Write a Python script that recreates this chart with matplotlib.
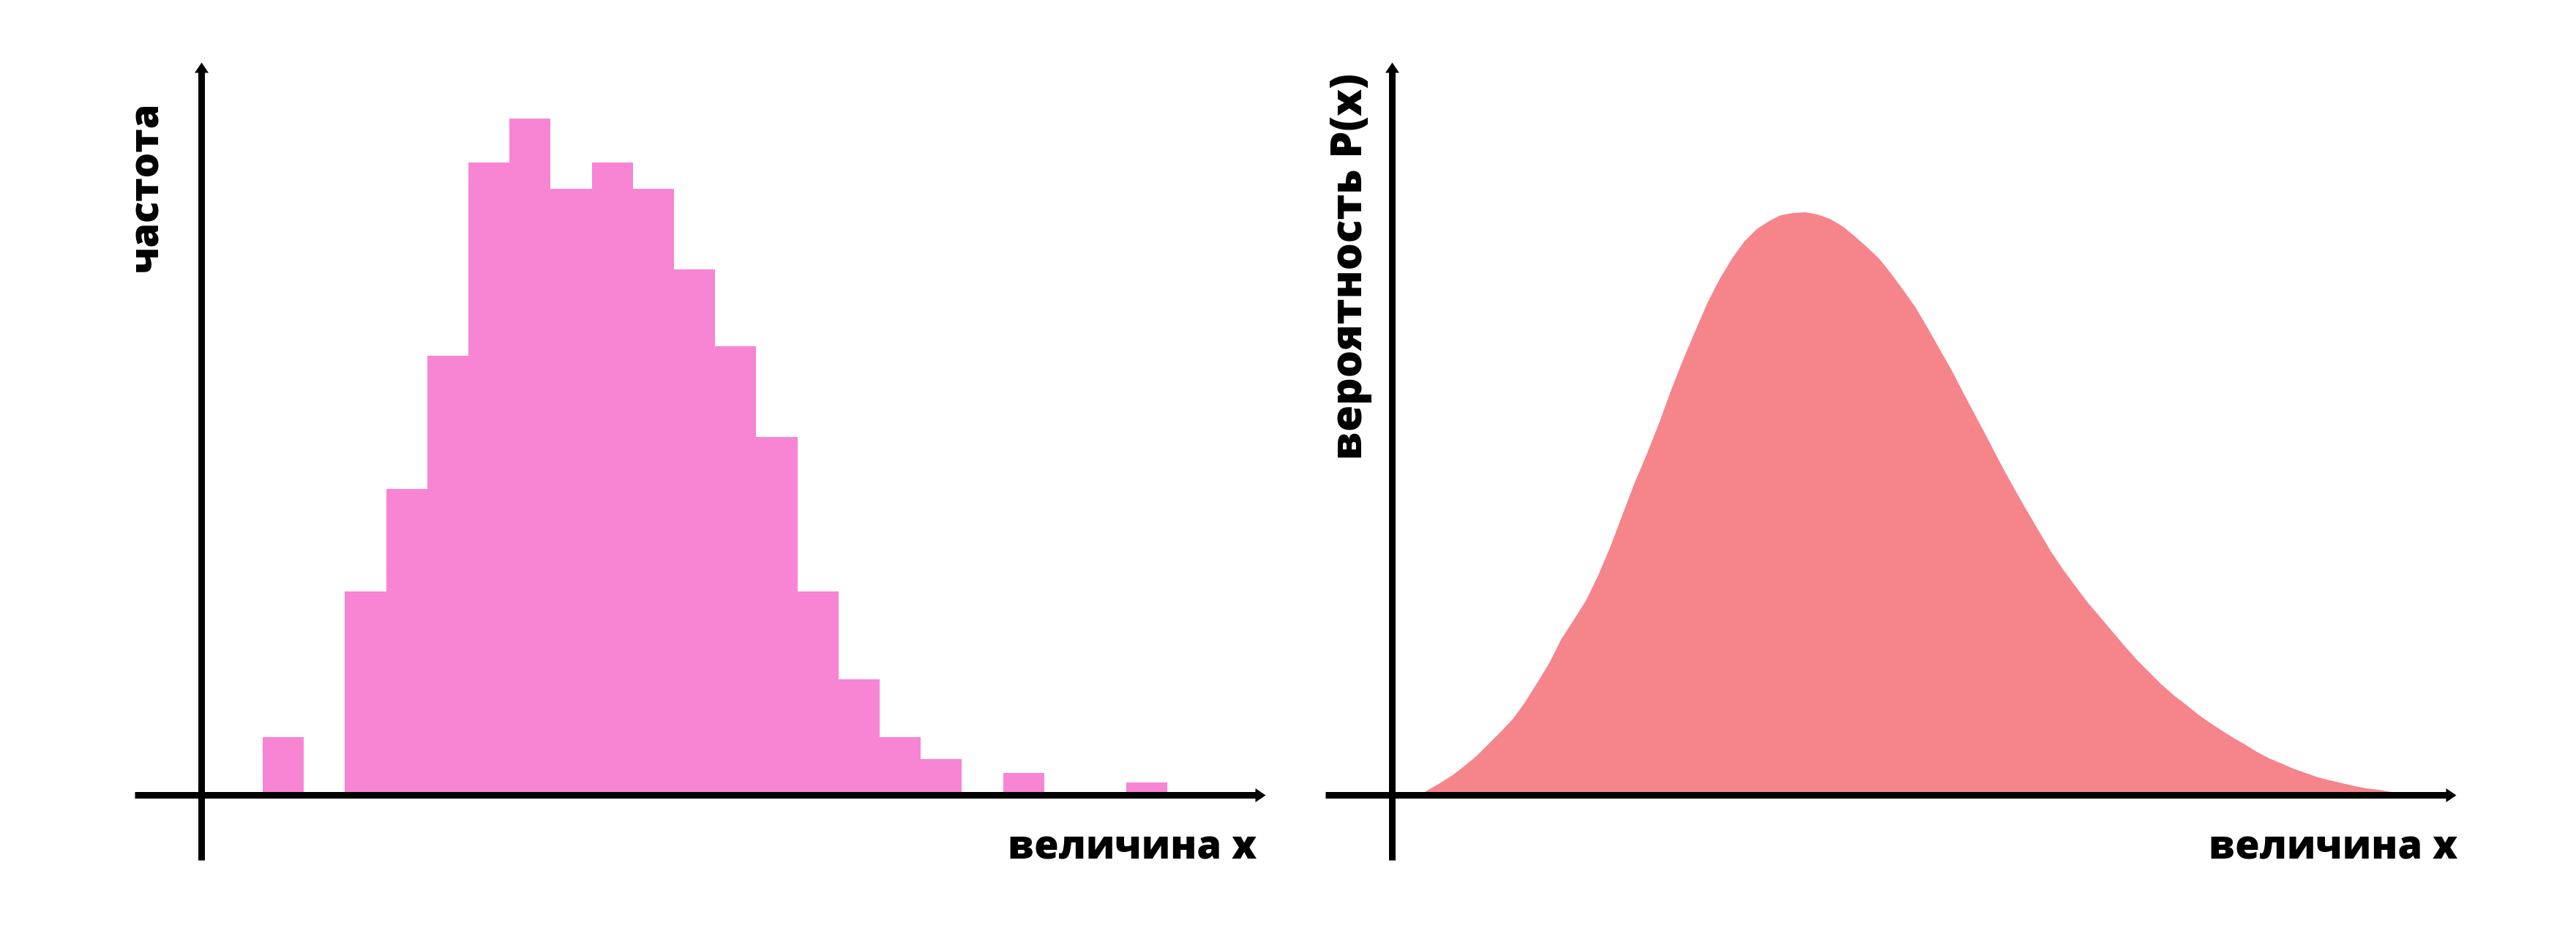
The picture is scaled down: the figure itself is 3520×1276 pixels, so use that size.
import numpy as np
import matplotlib.pyplot as plt
from matplotlib.path import Path

plt.rcParams['font.family'] = ['Open Sans', 'DejaVu Sans']

# ---------------- DATA ----------------
# histogram: one value per bin (bin width = 1)
hist_bins = np.arange(22)
hist_freq = [6.3, 0, 22.2, 33.4, 48.0, 69.1, 73.9, 66.2, 69.1, 66.2, 57.4,
             49.0, 39.1, 22.2, 12.6, 6.3, 3.9, 0, 2.4, 0, 0, 1.3]

# density curve P(x)
curve_x = [0.41, 0.65, 0.81, 0.98, 1.15, 1.31, 1.48, 1.65, 1.81, 1.98,
           2.15, 2.31, 2.48, 2.65, 2.81, 2.98, 3.15, 3.31, 3.48, 3.65,
           3.81, 3.98, 4.15, 4.31, 4.48, 4.65, 4.81, 4.98, 5.15, 5.31,
           5.48, 5.65, 5.81, 5.98, 6.15, 6.31, 6.48, 6.65, 6.81, 6.98,
           7.15, 7.31, 7.48, 7.65, 7.81, 7.98, 8.15, 8.31, 8.48, 8.65,
           8.85, 9.01, 9.18, 9.35, 9.51, 9.68, 9.85, 10.01, 10.18, 10.35,
           10.51, 10.68, 10.85, 11.01, 11.18, 11.35, 11.51, 11.65, 11.81, 11.98,
           12.15, 12.31, 12.48, 12.65, 12.81, 12.98, 13.15, 13.31, 13.48, 13.65,
           13.88]
curve_p = [0.002, 0.016, 0.026, 0.039, 0.053, 0.069, 0.086, 0.104, 0.126, 0.153,
           0.181, 0.213, 0.239, 0.266, 0.299, 0.339, 0.384, 0.426, 0.466, 0.509,
           0.553, 0.596, 0.636, 0.673, 0.706, 0.734, 0.756, 0.773, 0.784, 0.792,
           0.795, 0.796, 0.793, 0.787, 0.777, 0.764, 0.749, 0.733, 0.713, 0.690,
           0.666, 0.639, 0.609, 0.579, 0.548, 0.516, 0.484, 0.453, 0.422, 0.392,
           0.358, 0.331, 0.306, 0.283, 0.262, 0.242, 0.222, 0.203, 0.184, 0.167,
           0.151, 0.136, 0.123, 0.110, 0.098, 0.087, 0.077, 0.069, 0.059, 0.050,
           0.043, 0.036, 0.030, 0.024, 0.020, 0.016, 0.012, 0.009, 0.007, 0.004,
           0.0]

x_label = "величина x"
hist_ylabel = "частота"
curve_ylabel = "вероятность P(x)"

# ---------------- STYLE ----------------
W, H = 3520, 1276
BAR_COLOR = "#F785D3"
CURVE_COLOR = "#F6848B"
LW = 9 * 0.72          # 9 px axis lines
HEAD_LEN = 14          # px
FONT_SIZE = 39
WEIGHT = 800

fig = plt.figure(figsize=(W / 100, H / 100), dpi=100)


def panel(box, origin, sx, sy):
    # box (left, top, right, bottom) in px; origin = px of data (0, 0); sx, sy = px per unit
    l, t, r, b = box
    ax = fig.add_axes([l / W, 1 - b / H, (r - l) / W, (b - t) / H])
    ox, oy = origin
    ax.set_xlim((l - ox) / sx, (r - ox) / sx)
    ax.set_ylim((oy - b) / sy, (oy - t) / sy)
    ax.axis('off')
    return ax


# left: histogram
ax1 = panel((140, 40, 1780, 1230), (359, 1085.5), 56.2, 12.5)
ax1.bar(hist_bins, hist_freq, width=1, align='edge', color=BAR_COLOR, linewidth=0)

# right: density
ax2 = panel((1780, 40, 3420, 1230), (1902, 1085.5), 100, 1000)
ax2.fill_between(curve_x, curve_p, 0, color=CURVE_COLOR, linewidth=0)

# overlay in pixel coords for the arrows and labels
ov = fig.add_axes([0, 0, 1, 1])
ov.set_xlim(0, W)
ov.set_ylim(H, 0)
ov.axis('off')

head_right = Path([(0, 0), (-14, 9.5), (-14, -9.5), (0, 0)],
                  [Path.MOVETO, Path.LINETO, Path.LINETO, Path.CLOSEPOLY])
head_up = Path([(0, 0), (-9.5, -14), (9.5, -14), (0, 0)],
               [Path.MOVETO, Path.LINETO, Path.LINETO, Path.CLOSEPOLY])
HEAD_MS = 2 * HEAD_LEN * 0.72


def arrows(x0, x1, yb, y0, y1, xa):
    ov.plot([x0, x1 - HEAD_LEN + 1], [yb, yb], color='black', lw=LW, solid_capstyle='butt')
    ov.plot([xa, xa], [y0, y1 + HEAD_LEN - 1], color='black', lw=LW, solid_capstyle='butt')
    ov.plot(x1, yb, marker=head_right, ms=HEAD_MS, color='black', mew=0)
    ov.plot(xa, y1, marker=head_up, ms=HEAD_MS, color='black', mew=0)


arrows(184, 1729, 1085.5, 1175, 85, 275)
arrows(1811, 3356, 1085.5, 1175, 85, 1902)

ov.text(1717, 1174, x_label, ha='right', va='baseline', fontsize=FONT_SIZE, fontweight=WEIGHT)
ov.text(3358, 1174, x_label, ha='right', va='baseline', fontsize=FONT_SIZE, fontweight=WEIGHT)
ov.text(215, 255, hist_ylabel, rotation=90, rotation_mode='anchor', ha='center', va='baseline',
        fontsize=FONT_SIZE, fontweight=WEIGHT)
ov.text(1861, 364, curve_ylabel, rotation=90, rotation_mode='anchor', ha='center', va='baseline',
        fontsize=FONT_SIZE + 3, fontweight=WEIGHT)

fig.savefig("out.png", dpi=100, facecolor='white')
